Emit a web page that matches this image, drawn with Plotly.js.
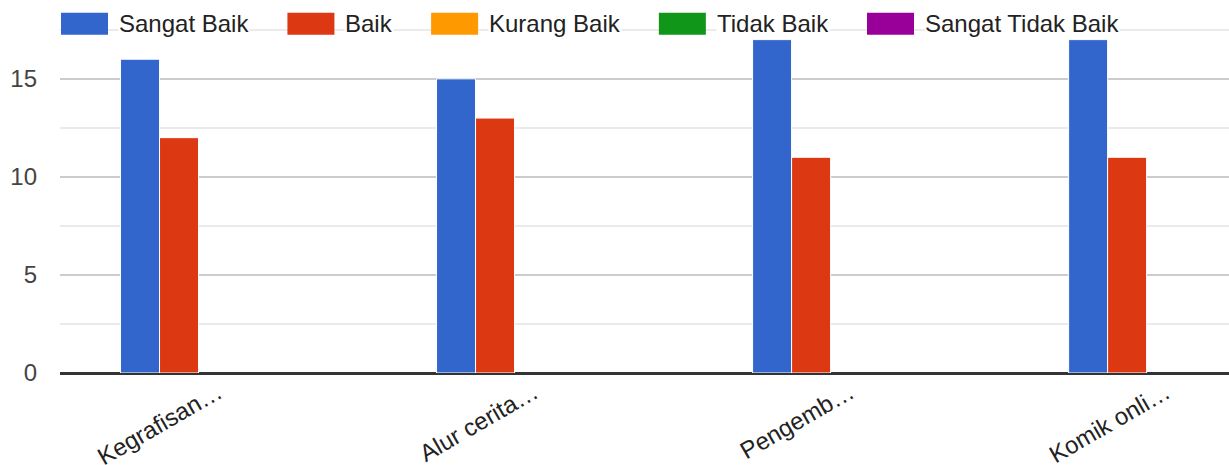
<!DOCTYPE html>
<html>
<head>
<meta charset="utf-8">
<script src="https://cdn.plot.ly/plotly-3.0.1.min.js"></script>
<style>html,body{margin:0;padding:0;background:#fff;overflow:hidden}#chart{width:1229px;height:465px}</style>
</head>
<body>
<div id="chart"></div>
<script>
// ---- data ----
var categories = ["Kegrafisan\u2026", "Alur cerita\u2026", "Pengemb\u2026", "Komik onli\u2026"];
var seriesNames = ["Sangat Baik", "Baik", "Kurang Baik", "Tidak Baik", "Sangat Tidak Baik"];
var sangatBaik = [16, 15, 17, 17];
var baik = [12, 13, 11, 11];
var kurangBaik = [0, 0, 0, 0];
var tidakBaik = [0, 0, 0, 0];
var sangatTidakBaik = [0, 0, 0, 0];
var seriesValues = [sangatBaik, baik, kurangBaik, tidakBaik, sangatTidakBaik];
var seriesColors = ["#3366cc", "#dc3912", "#ff9900", "#109618", "#990099"];
var yTicks = [0, 5, 10, 15];

// ---- layout geometry ----
var W = 1229, H = 465;
var mL = 60, mR = 0, mT = 20, mB = 92;
var plotW = W - mL - mR, plotH = H - mT - mB;
var FONT = "'Liberation Sans', Arial, sans-serif";

var traces = seriesNames.map(function (name, i) {
  return {
    type: "bar",
    name: name,
    x: categories,
    y: seriesValues[i],
    marker: {
      color: seriesColors[i],
      line: { color: "#ffffff", width: seriesValues[i].map(function (v) { return v > 0 ? 1 : 0; }) }
    },
    hoverinfo: "x+y+name"
  };
});

// custom legend (swatches + labels) measured with canvas
var ctx = document.createElement("canvas").getContext("2d");
ctx.font = "24px " + FONT;
var shapes = [], annotations = [];
var px = 61, swW = 47, swTop = 12.7, swBot = 34.7, gapText = 10, gapItem = 40;
function toPX(p) { return (p - mL) / plotW; }
function toPY(p) { return (H - mB - p) / plotH; }
seriesNames.forEach(function (name, i) {
  shapes.push({
    type: "rect", xref: "paper", yref: "paper", layer: "above",
    x0: toPX(px), x1: toPX(px + swW), y0: toPY(swBot), y1: toPY(swTop),
    fillcolor: seriesColors[i], line: { width: 0 }
  });
  var tx = px + swW + gapText;
  var tw = ctx.measureText(name).width;
  annotations.push({
    xref: "paper", yref: "paper", x: toPX(tx), y: toPY((swTop + swBot) / 2),
    xanchor: "left", yanchor: "middle", showarrow: false,
    text: name, bgcolor: "#ffffff", borderpad: 0,
    font: { family: FONT, size: 24, color: "#222222" }
  });
  px = tx + tw + gapItem;
});

var layout = {
  width: W, height: H,
  margin: { l: mL, r: mR, t: mT, b: mB, pad: 0 },
  paper_bgcolor: "#ffffff", plot_bgcolor: "#ffffff",
  showlegend: false,
  barmode: "group",
  bargap: 0.383,
  bargroupgap: 0,
  font: { family: FONT, size: 24, color: "#444444" },
  xaxis: {
    type: "category",
    range: [-0.5, 3.199],
    tickangle: -30,
    showgrid: false,
    zeroline: false,
    showline: false,
    ticks: "",
    ticklabelstandoff: 0,
    tickfont: { family: FONT, size: 24, color: "#222222" },
    fixedrange: true
  },
  yaxis: {
    range: [0, 18],
    tickvals: yTicks,
    ticktext: yTicks.map(String),
    showgrid: true,
    gridcolor: "#cccccc",
    gridwidth: 2,
    minor: { dtick: 2.5, showgrid: true, gridcolor: "#ebebeb", gridwidth: 2, ticks: "" },
    zeroline: true,
    zerolinecolor: "#333333",
    zerolinewidth: 3,
    showline: false,
    ticks: "",
    ticklabelstandoff: 22,
    tickfont: { family: FONT, size: 24, color: "#444444" },
    fixedrange: true
  },
  shapes: shapes,
  annotations: annotations
};

Plotly.newPlot("chart", traces, layout, { displayModeBar: false, staticPlot: true });
</script>
</body>
</html>
